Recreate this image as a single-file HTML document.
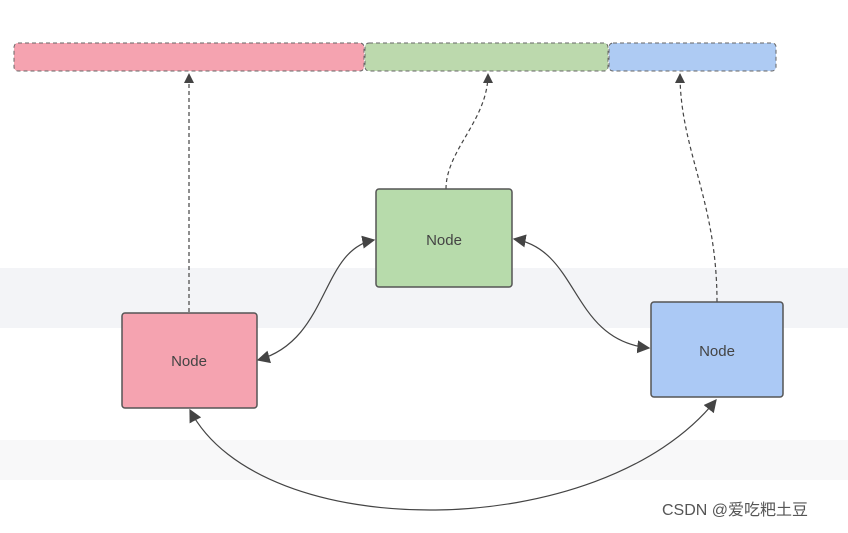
<!DOCTYPE html>
<html><head><style>
body{margin:0;width:848px;height:528px;background:#fff;overflow:hidden;font-family:"Liberation Sans","Noto Sans CJK SC",sans-serif}
</style></head><body>
<svg width="848" height="528" xmlns="http://www.w3.org/2000/svg">
<defs>
<marker id="a" viewBox="0 0 10 10" refX="9" refY="5" markerWidth="10" markerHeight="10" markerUnits="userSpaceOnUse" orient="auto-start-reverse"><path d="M0,0 L10,5 L0,10 z" fill="#444"/></marker>
<marker id="b" viewBox="0 0 10 10" refX="9" refY="5" markerWidth="13" markerHeight="13" markerUnits="userSpaceOnUse" orient="auto-start-reverse"><path d="M0,0 L10,5 L0,10 z" fill="#444"/></marker>
</defs>
<rect x="0" y="268" width="848" height="60" fill="#f3f4f7"/>
<rect x="0" y="440" width="848" height="40" fill="#f8f8f9"/>
<rect x="14" y="43" width="350" height="28" rx="4" fill="#f5a3b0" stroke="#666" stroke-dasharray="4,3"/>
<rect x="365" y="43" width="243" height="28" rx="4" fill="#bcd9ad" stroke="#666" stroke-dasharray="4,3"/>
<rect x="609" y="43" width="167" height="28" rx="4" fill="#aecbf3" stroke="#666" stroke-dasharray="4,3"/>
<g fill="none" stroke="#444" stroke-width="1.2">
<path d="M189,312 L189,74" stroke-dasharray="4,3" marker-end="url(#a)"/>
<path d="M446,189 C446,150 488,120 488,74" stroke-dasharray="4,3" marker-end="url(#a)"/>
<path d="M717,302 C717,200 680,150 680,74" stroke-dasharray="4,3" marker-end="url(#a)"/>
<path d="M258,360 C330,340 320,250 374,240" marker-start="url(#b)" marker-end="url(#b)"/>
<path d="M514,239 C580,250 570,340 649,348" marker-start="url(#b)" marker-end="url(#b)"/>
<path d="M190,410 C260,545 600,545 716,400" marker-start="url(#b)" marker-end="url(#b)"/>
</g>
<rect x="376" y="189" width="136" height="98" rx="3" fill="#b7dbab" stroke="#555" stroke-width="1.5"/>
<rect x="122" y="313" width="135" height="95" rx="3" fill="#f5a3b0" stroke="#555" stroke-width="1.5"/>
<rect x="651" y="302" width="132" height="95" rx="3" fill="#abc9f5" stroke="#555" stroke-width="1.5"/>
<g font-size="15" fill="#444" text-anchor="middle">
<text x="444" y="245">Node</text>
<text x="189" y="366">Node</text>
<text x="717" y="356">Node</text>
</g>
<text x="662" y="515" font-size="16" fill="#555">CSDN @爱吃粑土豆</text>
</svg>
</body></html>
